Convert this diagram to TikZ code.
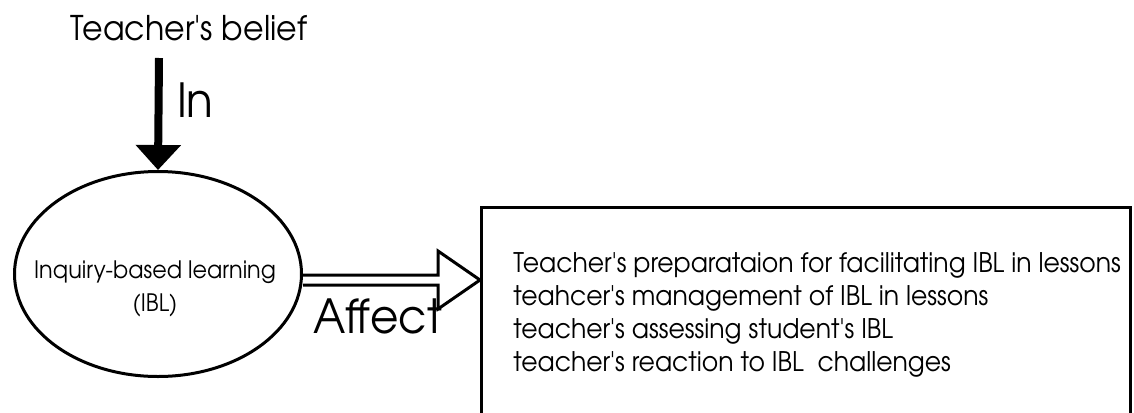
\documentclass[tikz,border=0pt]{standalone}
\usepackage{fontspec}
\setmainfont{TeX Gyre Adventor}[Ligatures=TeXOff,FakeStretch=0.93]
\usetikzlibrary{calc,positioning,arrows.meta,shapes.geometric}

\begin{document}
\begin{tikzpicture}[x=0.5pt,y=-0.5pt,>={Triangle[length=12.5pt,width=22pt]}]
      \useasboundingbox (0,0) rectangle (1134,412);
      \node[draw,ellipse,line width=1.5pt,minimum width=143.5pt,minimum height=102.5pt,inner sep=0pt] (IBL) at (158,274) {};
      \node[align=center,inner sep=0pt,font=\fontsize{12}{16.5}\selectfont] (IBL_text) at (155,289) {Inquiry-based learning\\(IBL)};
      \node[anchor=base,font=\fontsize{17}{20}\selectfont] (belief) at (189,40) {Teacher's belief};
      \coordinate (belief_arrow) at (159,58);
      \node[draw,line width=1.5pt,anchor=north west,minimum width=324.5pt,minimum height=120pt,inner sep=0pt] (effects) at (480,206) {};
      \node[anchor=north west,align=left,inner sep=0pt,font=\fontsize{13.5}{16.5}\selectfont] (effects_text) at (513,252) {Teacher's preparataion for facilitating IBL in lessons\\teahcer's management of IBL in lessons\\teacher's assessing student's IBL\\teacher's reaction to IBL\ \ challenges};
      \coordinate (affect_tip) at (effects.west |- 0,280);

      \draw[->,line width=4pt] (belief_arrow) -- (IBL.north);
      \node[anchor=base west,font=\fontsize{23.5}{28}\selectfont] (in) at (170,117) {In};

      \draw[line width=1.5pt] ($(IBL.east |- affect_tip)+(0,-5)$) -- ($(affect_tip)+(-42,-5)$) -- ($(affect_tip)+(-42,-29)$) -- (affect_tip) -- ($(affect_tip)+(-42,29)$) -- ($(affect_tip)+(-42,5)$) -- ($(IBL.east |- affect_tip)+(0,5)$);
      \node[anchor=base west,font=\fontsize{23.5}{28}\selectfont] (affect) at (306,333) {Affect};
\end{tikzpicture}
\end{document}
